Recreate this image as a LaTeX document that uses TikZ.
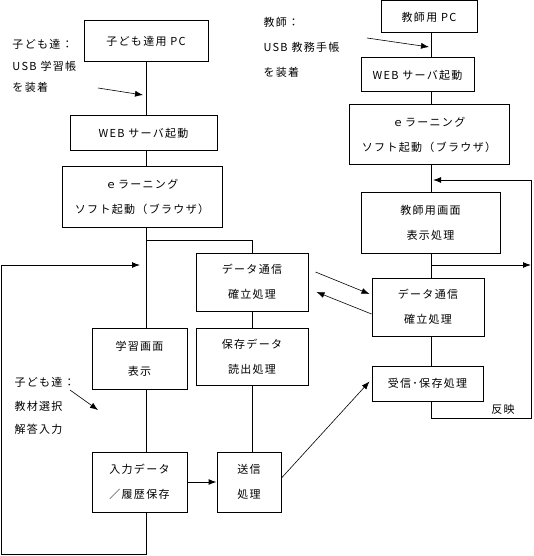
\documentclass[tikz,border=0pt]{standalone}
\usepackage{fontspec}
\setmainfont[LetterSpace=12]{Noto Sans CJK JP}
\usepackage{tikz}
\usetikzlibrary{positioning, arrows.meta}
\tikzset{proc/.style = {draw, rectangle, align=center, inner sep=0pt, font=\fontsize{11}{25}\selectfont}}
\tikzset{note/.style = {align=left, anchor=north west, inner sep=0pt}}
\tikzset{hint/.style = {->, line width=0.6pt}}

\begin{document}
\begin{tikzpicture}[>={Latex[length=8pt, width=6pt]}, x=1pt, y=-1pt, line width=1pt]
  \useasboundingbox (0,0) rectangle (533,556);
  \coordinate (kcol) at (146,0);
  \coordinate (ccol) at (252,0);
  \coordinate (tcol) at (431,0);

  % child PC side
  \node [proc, minimum width=124, minimum height=41] (kpc) at (146,41.5) {子ども達用 PC};
  \node [proc, minimum width=147, minimum height=35] (kweb) at (143.5,133.5) {WEB サーバ起動};
  \node [proc, minimum width=160, minimum height=60] (kel) at (142,197) {ｅラーニング\\ソフト起動（ブラウザ）};
  \node [proc, minimum width=112, minimum height=58] (kcom) at (252,282) {データ通信\\確立処理};
  \node [proc, minimum width=112, minimum height=57] (kload) at (252,356.5) {保存データ\\読出処理};
  \node [proc, minimum width=95, minimum height=61] (kscr) at (139.5,358.5) {学習画面\\表示};
  \node [proc, minimum width=95, minimum height=60] (kin) at (139.5,482) {入力データ\\／履歴保存};
  \node [proc, minimum width=64, minimum height=60] (ksend) at (249,482) {送信\\処理};

  \node [note, font=\fontsize{11}{21.5}\selectfont] (knote1) at (12,39) {子ども達：\\USB 学習帳\\を装着};
  \node [note, font=\fontsize{11}{23.5}\selectfont] (knote2) at (14,377) {子ども達：\\教材選択\\解答入力};

  % teacher PC side
  \node [proc, minimum width=96, minimum height=32] (tpc) at (429,17) {教師用 PC};
  \node [proc, minimum width=113, minimum height=34] (tweb) at (417.5,75) {WEB サーバ起動};
  \node [proc, minimum width=160, minimum height=60] (tel) at (429,135) {ｅラーニング\\ソフト起動（ブラウザ）};
  \node [proc, minimum width=139, minimum height=61] (tscr) at (430.5,222.5) {教師用画面\\表示処理};
  \node [proc, minimum width=112, minimum height=58] (tcom) at (428,307) {データ通信\\確立処理};
  \node [proc, minimum width=111, minimum height=35] (trecv) at (427.5,383.5) {受信･保存処理};

  \node [note, font=\fontsize{11}{25}\selectfont] (tnote) at (263,17) {教師：\\USB 教務手帳\\を装着};
  \node [inner sep=0pt, font=\fontsize{11}{13}\selectfont] (refl) at (503,409) {反映};

  % child flow
  \coordinate (kusb) at (98,88);
  \coordinate (kmount) at (143,95);
  \coordinate (kfork) at (146,240);
  \coordinate (kbot) at (146,554);
  \coordinate (kcorner) at (1,554);
  \coordinate (kloop) at (140,265);
  \coordinate (kpick) at (70,390);
  \coordinate (kanswer) at (98,410);

  \draw (kpc.south -| kcol) -- (kweb.north -| kcol);
  \draw (kweb.south -| kcol) -- (kel.north -| kcol);
  \draw (kel.south -| kcol) -- (kscr.north -| kcol);
  \draw (kscr.south -| kcol) -- (kin.north -| kcol);
  \draw (kfork) -| (kcom.north);
  \draw (kcom.south -| ccol) -- (kload.north -| ccol);
  \draw (kload.south -| ccol) -- (ksend.north -| ccol);
  \draw [->] (kin.south -| kcol) -- (kbot) -- (kcorner) |- (kloop);
  \draw [->] (kin) -- (ksend);
  \draw [hint] (kusb) -- (kmount);
  \draw [hint] (kpick) -- (kanswer);

  % teacher flow
  \coordinate (tusb) at (367,38);
  \coordinate (tmount) at (429,47);
  \coordinate (tret) at (433,180);
  \coordinate (ttop) at (531,180);
  \coordinate (tright) at (531,418);
  \coordinate (tfb) at (431,418);
  \coordinate (tbranch) at (431,265);

  \draw (tpc.south -| tcol) -- (tweb.north -| tcol);
  \draw (tweb.south -| tcol) -- (tel.north -| tcol);
  \draw (tel.south -| tcol) -- (tscr.north -| tcol);
  \draw (tscr.south -| tcol) -- (tcom.north -| tcol);
  \draw (tcom.south -| tcol) -- (trecv.north -| tcol);
  \draw [->] (trecv.south -| tcol) -- (tfb) -- (tright) -- (ttop) -- (tret);
  \draw [->] (tbranch) -- (tbranch -| tright);
  \draw [hint] (tusb) -- (tmount);

  % between the two PCs
  \draw [hint] ([xshift=7pt, yshift=10pt]kcom.east) -- ([xshift=-2pt, yshift=13pt]tcom.west);
  \draw [hint] ([yshift=-7pt]tcom.west) -- ([xshift=8pt, yshift=-10pt]kcom.east);
  \draw [hint] ([yshift=4pt]ksend.east) -- ([xshift=-2pt, yshift=2pt]trecv.west);
\end{tikzpicture}
\end{document}
